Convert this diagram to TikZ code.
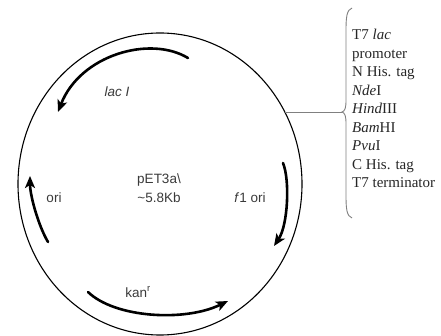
\documentclass[tikz,border=0pt]{standalone}
\usepackage{fontspec}
\setmainfont{Liberation Serif}
\setsansfont{Liberation Sans}
\usetikzlibrary{arrows.meta}
\definecolor{labelgray}{HTML}{3A3A3A}
\definecolor{textdark}{HTML}{262626}
\definecolor{bracegray}{HTML}{808080}
\begin{document}
\begin{tikzpicture}[x=1pt,y=-1pt,
  gene/.style={line width=2.6pt, line cap=round,
    -{Stealth[length=12pt,width=10pt,inset=3pt]}},
  lbl/.style={font=\sffamily\fontsize{13.5}{19}\selectfont, text=labelgray, inner sep=0pt},
  sitelist/.style={font=\fontsize{15}{18.5}\selectfont, text=textdark, align=left,
    inner sep=0pt, anchor=north west},
  thin/.style={draw=bracegray, line width=0.9pt}]
\useasboundingbox (0,0) rectangle (441,336);

% plasmid backbone
\coordinate (centre) at (160,184);
\draw[line width=1.1pt] (centre) ellipse [x radius=142, y radius=151];

% gene / origin arrows
\draw[gene] (188,58) .. controls (150,35) and (80,55) .. (58,112);
\draw[gene] (48,242) .. controls (38,225) and (30,195) .. (30,176);
\draw[gene] (283,163) .. controls (290,180) and (288,225) .. (274,246);
\draw[gene] (88,292) .. controls (115,318) and (185,322) .. (228,301);

% labels
\node[lbl, font=\sffamily\itshape\fontsize{13.5}{19}\selectfont] (lacI) at (117,92) {lac I};
\node[lbl, align=center] (name) at (159,188) {pET3a\textbackslash\\\textasciitilde5.8Kb};
\node[lbl] (ori) at (54,198) {ori};
\node[lbl] (f1ori) at (250,198) {\textit{f}1 ori};
\node[lbl] (kan) at (138,292) {kan\textsuperscript{r}};

% multiple cloning site bracket
\coordinate (mcs) at (285,112);
\coordinate (tip) at (342,112);
\draw[thin] (mcs) -- (tip);
\draw[thin] (352,8) .. controls (347,10) and (346,16) .. (346,30) -- (346,100)
  .. controls (346,108) and (345,111) .. (tip)
  .. controls (345,113) and (346,116) .. (346,124) -- (346,196)
  .. controls (346,210) and (347,216) .. (352,218);

\node[sitelist] (sites) at (352,29) {T7 \textit{lac}\\promoter\\N His. tag\\\textit{Nde}I\\
  \textit{Hind}III\\\textit{Bam}HI\\\textit{Pvu}I\\C His. tag\\T7 terminator};
\end{tikzpicture}
\end{document}
